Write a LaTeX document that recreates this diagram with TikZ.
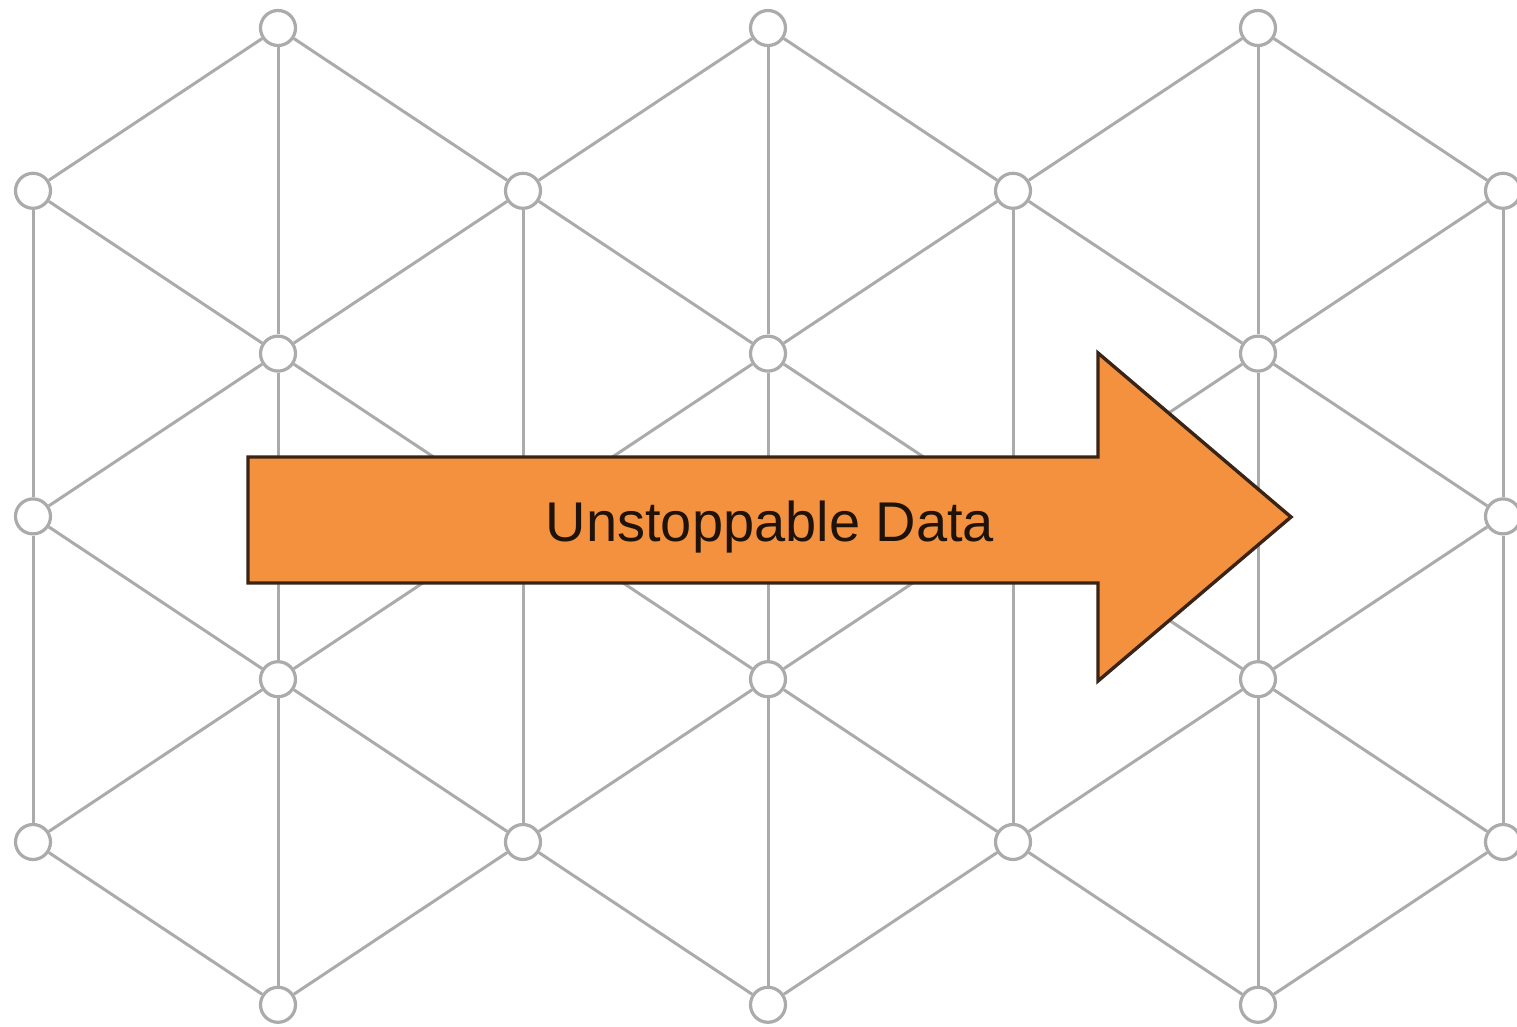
\documentclass[tikz,border=0pt]{standalone}
\usepackage{fontspec}
\setmainfont{Liberation Sans}
\definecolor{gridgray}{HTML}{ABABAB}
\definecolor{arrowfill}{HTML}{F3913F}
\definecolor{arrowedge}{HTML}{3A2415}
\definecolor{labelink}{HTML}{1E1209}
\begin{document}
\begin{tikzpicture}[x=0.5pt,y=-0.5pt,
  vertex/.style={circle,draw=gridgray,fill=white,line width=1.6pt,minimum size=17.5pt,inner sep=0pt},
  link/.style={draw=gridgray,line width=1.5pt},
  bigarrow/.style={fill=arrowfill,draw=arrowedge,line width=1.7pt,line join=miter},
  arrowlabel/.style={font=\fontsize{28}{34}\selectfont,text=labelink,anchor=base,inner sep=0pt}]
\useasboundingbox (0,0) rectangle (1517,1027);
\clip (0,0) rectangle (1517,1027);

% lattice vertices: column c, row r, present where c+r is odd
\foreach \c in {0,...,6} {
  \foreach \r in {0,...,6} {
    \pgfmathtruncatemacro\s{mod(\c+\r,2)}
    \ifnum\s=1
      \node[vertex] (n\c\r) at ({33+245*\c},{28+162.8*\r}) {};
    \fi
  }
}

% diagonal links to the next column
\foreach \c in {0,...,5} {
  \foreach \r in {0,...,6} {
    \pgfmathtruncatemacro\s{mod(\c+\r,2)}
    \pgfmathtruncatemacro\cn{\c+1}
    \pgfmathtruncatemacro\rd{\r+1}
    \pgfmathtruncatemacro\ru{\r-1}
    \ifnum\s=1
      \ifnum\r<6 \draw[link] (n\c\r) -- (n\cn\rd); \fi
      \ifnum\r>0 \draw[link] (n\c\r) -- (n\cn\ru); \fi
    \fi
  }
}

% vertical links within a column
\foreach \c in {0,...,6} {
  \foreach \r in {0,...,4} {
    \pgfmathtruncatemacro\s{mod(\c+\r,2)}
    \pgfmathtruncatemacro\rr{\r+2}
    \ifnum\s=1
      \draw[link] (n\c\r) -- (n\c\rr);
    \fi
  }
}

% the big arrow
\coordinate (shaftTL) at (248,457);
\coordinate (shaftTR) at (1098,457);
\coordinate (headT) at (1098,353);
\coordinate (tip) at (1291,517);
\coordinate (headB) at (1098,681);
\coordinate (shaftBR) at (1098,583);
\coordinate (shaftBL) at (248,583);
\draw[bigarrow] (shaftTL) -- (shaftTR) -- (headT) -- (tip) -- (headB) -- (shaftBR) -- (shaftBL) -- cycle;
\node[arrowlabel] (label) at (770,541) {Unstoppable Data};
\end{tikzpicture}
\end{document}
